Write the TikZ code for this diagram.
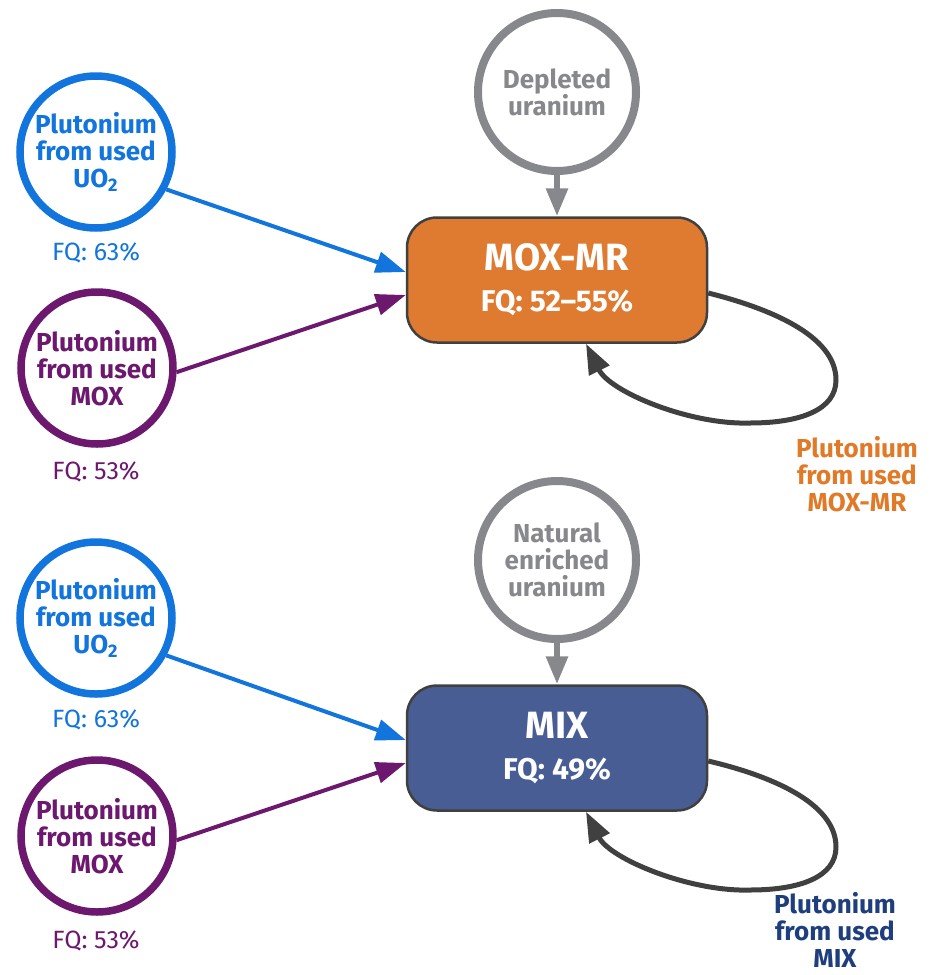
\documentclass[tikz,border=0pt]{standalone}
\usepackage{fontspec}
\setmainfont{Fira Sans}
\usetikzlibrary{arrows.meta}
\definecolor{uoblue}{RGB}{18,116,221}
\definecolor{moxpurple}{RGB}{108,24,110}
\definecolor{urgray}{RGB}{135,136,140}
\definecolor{moxmrfill}{RGB}{223,123,48}
\definecolor{moxmrtext}{RGB}{225,122,40}
\definecolor{mixfill}{RGB}{71,93,147}
\definecolor{mixtext}{RGB}{30,62,125}
\definecolor{darkline}{RGB}{64,64,64}
\begin{document}
\begin{tikzpicture}[x=0.5pt,y=-0.5pt,
  ring/.style={circle, line width=3.75pt, minimum size=76pt, inner sep=0pt, fill=white, align=center, font=\fontsize{13}{13.5}\selectfont\bfseries},
  urring/.style={ring, draw=urgray, text=urgray, line width=4pt, minimum size=79pt},
  fqlabel/.style={font=\fontsize{12.5}{13.5}\selectfont},
  fuelbox/.style={rectangle, rounded corners=15pt, draw=darkline, line width=1.25pt, minimum width=150pt, minimum height=62.5pt, text=white, align=center, font=\fontsize{19}{18.5}\selectfont\bfseries},
  recycled/.style={align=center, font=\fontsize{13}{13.5}\selectfont\bfseries},
  feed/.style={line width=2pt, -{Triangle[length=15pt, width=10.5pt]}},
  urfeed/.style={urgray, line width=3pt, -{Triangle[length=14pt, width=10.5pt]}},
  reloop/.style={darkline, line width=2.5pt, -{Triangle[length=15pt, width=11pt]}}]
\useasboundingbox (0,0) rectangle (934,975);
% MOX-MR
\node[ring, draw=uoblue, text=uoblue] (uo1) at (96,152) {Plutonium\\from used\\UO\textsubscript{2}};
\node[fqlabel, text=uoblue] (fquo1) at (96,253) {FQ: 63\%};
\node[ring, draw=moxpurple, text=moxpurple] (mox1) at (97,368) {Plutonium\\from used\\MOX};
\node[fqlabel, text=moxpurple] (fqmox1) at (96,472) {FQ: 53\%};
\node[urring] (dep) at (557,92) {Depleted\\uranium};
\node[fuelbox, fill=moxmrfill] (moxmr) at (557,280) {MOX-MR\\[2pt]{\fontsize{15}{16}\selectfont FQ: 52--55\%}};
\node[recycled, text=moxmrtext] (recmr) at (857,474) {Plutonium\\from used\\MOX-MR};
\draw[feed, uoblue] (uo1.-28) -- ([yshift=4pt]moxmr.west);
\draw[feed, moxpurple] (mox1.-3) -- ([yshift=-7.5pt]moxmr.west);
\draw[urfeed] (dep) -- (moxmr);
\draw[reloop] ([yshift=-6.5pt]moxmr.east) .. controls (768,308) and (836,335) .. (836,380)
  .. controls (836,410) and (800,423) .. (750,423)
  .. controls (690,425) and (610,392) .. ([xshift=14.5pt]moxmr.south);
% MIX
\node[ring, draw=uoblue, text=uoblue] (uo2) at (96,618) {Plutonium\\from used\\UO\textsubscript{2}};
\node[fqlabel, text=uoblue] (fquo2) at (96,720) {FQ: 63\%};
\node[ring, draw=moxpurple, text=moxpurple] (mox2) at (97,836) {Plutonium\\from used\\MOX};
\node[fqlabel, text=moxpurple] (fqmox2) at (96,941) {FQ: 53\%};
\node[urring] (nat) at (557,560) {Natural\\enriched\\uranium};
\node[fuelbox, fill=mixfill] (mix) at (557,748) {MIX\\[2pt]{\fontsize{15}{16}\selectfont FQ: 49\%}};
\node[recycled, text=mixtext] (recmix) at (835,930) {Plutonium\\from used\\MIX};
\draw[feed, uoblue] (uo2.-28) -- ([yshift=4pt]mix.west);
\draw[feed, moxpurple] (mox2.-3) -- ([yshift=-7.5pt]mix.west);
\draw[urfeed] (nat) -- (mix);
\draw[reloop] ([yshift=-6.5pt]mix.east) .. controls (768,775) and (836,802) .. (836,847)
  .. controls (836,877) and (800,890) .. (750,890)
  .. controls (690,892) and (610,859) .. ([xshift=14.5pt]mix.south);
\end{tikzpicture}
\end{document}
